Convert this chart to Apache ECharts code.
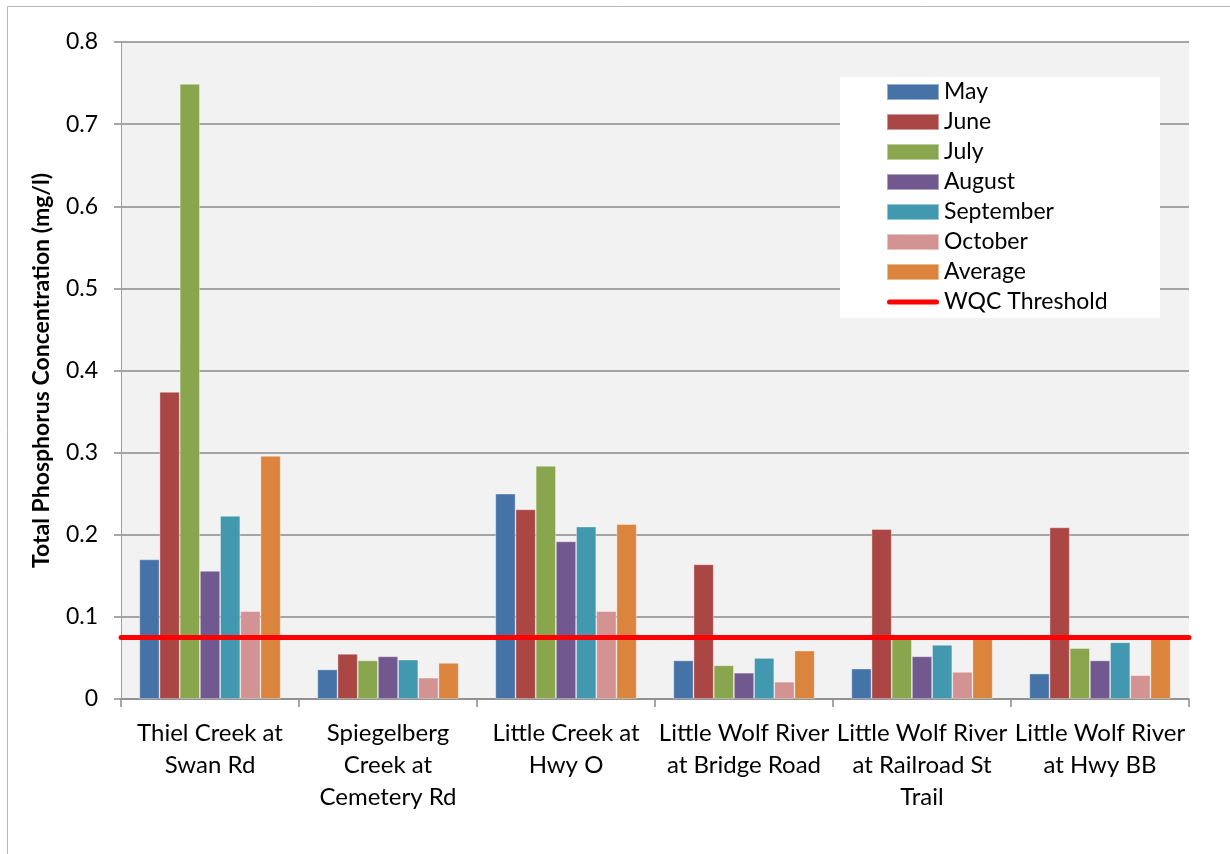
<!DOCTYPE html>
<html><head><meta charset="utf-8">
<script src="https://cdn.jsdelivr.net/npm/echarts@6/dist/echarts.min.js"></script>
<style>html,body{margin:0;padding:0;background:#fff}#c{width:1230px;height:854px}</style>
</head><body><div id="c"></div>
<script>
const categories = ["Thiel Creek at\nSwan Rd", "Spiegelberg\nCreek at\nCemetery Rd", "Little Creek at\nHwy O", "Little Wolf River\nat Bridge Road", "Little Wolf River\nat Railroad St\nTrail", "Little Wolf River\nat Hwy BB"];
const may = [0.170, 0.036, 0.250, 0.047, 0.037, 0.031];
const june = [0.374, 0.055, 0.231, 0.164, 0.207, 0.209];
const july = [0.749, 0.047, 0.284, 0.041, 0.078, 0.062];
const august = [0.156, 0.052, 0.192, 0.032, 0.052, 0.047];
const september = [0.223, 0.048, 0.210, 0.050, 0.066, 0.069];
const october = [0.107, 0.026, 0.107, 0.021, 0.033, 0.029];
const average = [0.296, 0.044, 0.213, 0.059, 0.078, 0.076];
const threshold = 0.075;
const yTicks = ["0", "0.1", "0.2", "0.3", "0.4", "0.5", "0.6", "0.7", "0.8"];

const seriesDefs = [
  ["May", may, "#4572A7"],
  ["June", june, "#AA4643"],
  ["July", july, "#89A54E"],
  ["August", august, "#71588F"],
  ["September", september, "#4198AF"],
  ["October", october, "#D39392"],
  ["Average", average, "#DB843D"]
];
const FONT = "Lato";
const chart = echarts.init(document.getElementById('c'), null, {renderer: 'canvas'});
const series = seriesDefs.map(([name, data, color]) => ({
  name, type: 'bar', data, barGap: '0%', barCategoryGap: '20.6%',
  itemStyle: {color, borderColor: 'rgba(255,255,255,0.45)', borderWidth: 0.8},
  emphasis: {disabled: true}
}));
series.push({
  name: 'WQC Threshold', type: 'line', data: [], symbol: 'none',
  color: '#FF0000', itemStyle: {color: '#FF0000'}, lineStyle: {color: '#FF0000', width: 5, cap: 'round'},
  markLine: {
    silent: true, symbol: 'none', label: {show: false}, precision: 6,
    lineStyle: {color: '#FF0000', width: 5, type: 'solid', cap: 'round'},
    emphasis: {disabled: true},
    data: [{yAxis: threshold}]
  },
  z: 5
});
chart.setOption({
  animation: false,
  textStyle: {fontFamily: FONT},
  graphic: [
    {type: 'rect', shape: {x: 7.5, y: 6.5, width: 1400, height: 1000}, style: {fill: 'none', stroke: '#b8b8b8', lineWidth: 1}, z: -10, silent: true},
    {type: 'rect', shape: {x: 840, y: 77, width: 320, height: 241}, style: {fill: '#ffffff'}, z: 3, silent: true}
  ],
  grid: {left: 121, right: 41, top: 42, bottom: 155, show: true, backgroundColor: '#f2f2f2', borderWidth: 0},
  legend: {
    orient: 'vertical', left: 886, top: 80.5, padding: 0,
    itemWidth: 52, itemHeight: 16, itemGap: 7, itemTextGap: 6,
    textStyle: {fontFamily: FONT, fontSize: 23, color: '#000'},
    z: 10,
    data: seriesDefs.map(d => ({name: d[0], icon: 'rect'})).concat([{
      name: 'WQC Threshold',
      icon: 'path://M2.5,0H49.5A2.5,2.5,0,0,1,49.5,5H2.5A2.5,2.5,0,0,1,2.5,0Z',
      itemStyle: {color: '#FF0000', borderWidth: 0}
    }])
  },
  xAxis: {
    type: 'category', data: categories,
    axisLine: {lineStyle: {color: '#8a8a8a', width: 1.5}},
    axisTick: {show: true, length: 8, lineStyle: {color: '#8a8a8a', width: 1.5}},
    axisLabel: {interval: 0, color: '#000', fontSize: 24, lineHeight: 32, margin: 18, fontFamily: FONT}
  },
  yAxis: {
    type: 'value', min: 0, max: 0.8, interval: 0.1,
    name: 'Total Phosphorus Concentration (mg/l)', nameLocation: 'middle', nameGap: 68,
    nameTextStyle: {fontWeight: 'bold', fontSize: 23, color: '#000', fontFamily: FONT},
    axisLine: {show: true, lineStyle: {color: '#a0a0a0', width: 1}},
    axisTick: {show: true, length: 7, lineStyle: {color: '#8a8a8a', width: 1.5}},
    splitLine: {lineStyle: {color: '#8a8a8a', width: 1.5}},
    axisLabel: {color: '#000', fontSize: 23, margin: 23, fontFamily: FONT,
      formatter: v => yTicks[Math.round(v * 10)]}
  },
  series
});
</script></body></html>
